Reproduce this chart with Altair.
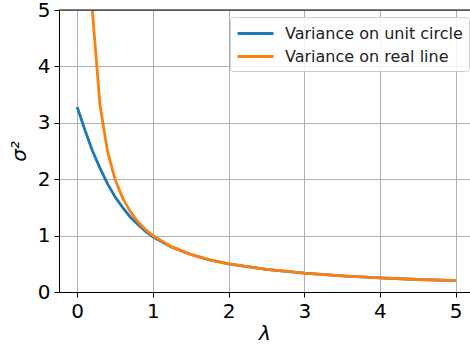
import altair as alt
import pandas as pd

# values
lam_circle = [0.0, 0.1, 0.2, 0.3, 0.4, 0.5, 0.6, 0.7, 0.8, 0.9, 1.0, 1.25, 1.5, 1.75, 2.0, 2.5, 3.0, 3.5, 4.0, 4.5, 5.0]
var_circle = [3.28, 2.88, 2.51, 2.20, 1.92, 1.69, 1.50, 1.33, 1.20, 1.08, 0.98, 0.795, 0.665, 0.571, 0.50, 0.40, 0.333, 0.286, 0.25, 0.222, 0.20]
lam_line = [0.1, 0.2, 0.3, 0.4, 0.5, 0.6, 0.7, 0.8, 0.9, 1.0, 1.25, 1.5, 1.75, 2.0, 2.5, 3.0, 3.5, 4.0, 4.5, 5.0]
var_line = [10.0, 5.0, 3.33, 2.5, 2.0, 1.67, 1.43, 1.25, 1.11, 1.0, 0.8, 0.667, 0.571, 0.5, 0.4, 0.333, 0.286, 0.25, 0.222, 0.2]
series_names = ["Variance on unit circle", "Variance on real line"]
series_colors = ["#1f77b4", "#ff7f0e"]
x_ticks = [0, 1, 2, 3, 4, 5]
y_ticks = [0, 1, 2, 3, 4, 5]

df_c = pd.DataFrame({"lam": lam_circle, "var": var_circle, "series": series_names[0]})
df_l = pd.DataFrame({"lam": lam_line, "var": var_line, "series": series_names[1]})
df_top = pd.DataFrame({"k": [0]})

W, H = 411, 282

x = alt.X("lam:Q", scale=alt.Scale(domain=[-0.24, 5.19], nice=False, zero=False),
          axis=alt.Axis(values=x_ticks, title="λ", format="d", titlePadding=2))
y = alt.Y("var:Q", scale=alt.Scale(domain=[0, 5], nice=False),
          axis=alt.Axis(values=y_ticks, title="σ²", format="d", titlePadding=8))
color = alt.Color("series:N",
                  scale=alt.Scale(domain=series_names, range=series_colors),
                  legend=alt.Legend(title=None, orient="none", legendX=171, legendY=7,
                                    symbolType="M-1,0H3", symbolSize=324, symbolStrokeWidth=3,
                                    symbolFillColor="transparent",
                                    labelFontSize=16, labelFont="DejaVu Sans", labelColor="#222222",
                                    labelLimit=0, labelOffset=28, padding=6, rowPadding=4,
                                    fillColor="rgba(255,255,255,0.85)", strokeColor="#cccccc",
                                    cornerRadius=3))

circle = alt.Chart(df_c).mark_line(clip=True, strokeWidth=2.8).encode(x=x, y=y, color=color)
real = alt.Chart(df_l).mark_line(clip=True, strokeWidth=2.8).encode(x=x, y=y, color=color)
top = alt.Chart(df_top).mark_rule(color="black", strokeWidth=1).encode(
    y=alt.value(0), x=alt.value(0), x2=alt.value(W))

chart = alt.layer(circle, real, top).properties(
    width=W, height=H,
    autosize=alt.AutoSizeParams(type="none"),
    padding={"left": 59, "top": 10, "right": 0, "bottom": 54},
).configure_view(stroke=None).configure_axis(
    labelFont="DejaVu Sans", labelFontSize=20, labelColor="black",
    titleFont="DejaVu Sans", titleFontSize=20, titleFontWeight="normal",
    titleFontStyle="italic", titleColor="black",
    domainColor="black", domainWidth=1, tickColor="black", tickSize=5, tickWidth=1,
    labelPadding=4, gridColor="#b0b0b0", gridWidth=1,
)

chart.save("out.html", embed_options={"renderer": "svg", "actions": False})
